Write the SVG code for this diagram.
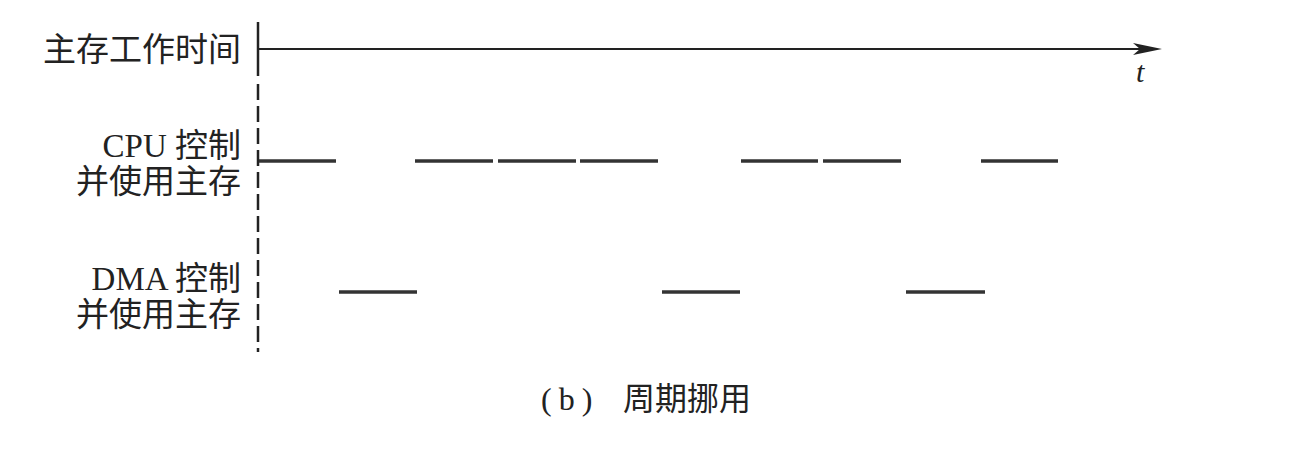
<svg xmlns="http://www.w3.org/2000/svg" width="1316" height="460" viewBox="0 0 1316 460">
<style>
.lbl{font-family:'Liberation Serif','Noto Sans CJK SC',serif;font-size:33px;fill:#222;text-anchor:end}
.cap{font-family:'Liberation Serif','Noto Sans CJK SC',serif;font-size:32px;fill:#222}
.bar{stroke:#333;stroke-width:3.5;fill:none}
.axis{stroke:#222;stroke-width:2;fill:none}
.vaxis{stroke:#222;stroke-width:2.5;fill:none}
</style>
<rect width="1316" height="460" fill="#fff"/>
<g id="labels">
<text class="lbl" x="241" y="61">主存工作时间</text>
<text class="lbl" x="241" y="157">CPU 控制</text>
<text class="lbl" x="241" y="193">并使用主存</text>
<text class="lbl" x="241" y="290">DMA 控制</text>
<text class="lbl" x="241" y="326">并使用主存</text>
</g>
<g id="connectors">
<line class="vaxis" x1="258" y1="22" x2="258" y2="76"/>
<line class="vaxis" x1="258" y1="84" x2="258" y2="352" stroke-dasharray="16 6"/>
<line class="axis" x1="258" y1="49" x2="1140" y2="49"/>
<path d="M1162,49 L1133,43 L1140,49 L1133,55 Z" fill="#222"/>
<text x="1136" y="82" style="font-family:'Liberation Serif',serif;font-style:italic;font-size:30px;fill:#222">t</text>
</g>
<g id="cpu">
<line class="bar" x1="259" y1="161" x2="336" y2="161"/>
<line class="bar" x1="415" y1="161" x2="493" y2="161"/>
<line class="bar" x1="498" y1="161" x2="576" y2="161"/>
<line class="bar" x1="580" y1="161" x2="658" y2="161"/>
<line class="bar" x1="741" y1="161" x2="818" y2="161"/>
<line class="bar" x1="823" y1="161" x2="901" y2="161"/>
<line class="bar" x1="981" y1="161" x2="1058" y2="161"/>
</g>
<g id="dma">
<line class="bar" x1="339" y1="292" x2="417" y2="292"/>
<line class="bar" x1="662" y1="292" x2="740" y2="292"/>
<line class="bar" x1="906" y1="292" x2="985" y2="292"/>
</g>
<g id="caption">
<text class="cap" x="541" y="410" font-size="35" letter-spacing="7">(b)</text>
<text class="cap" x="623" y="410">周期挪用</text>
</g>
</svg>
